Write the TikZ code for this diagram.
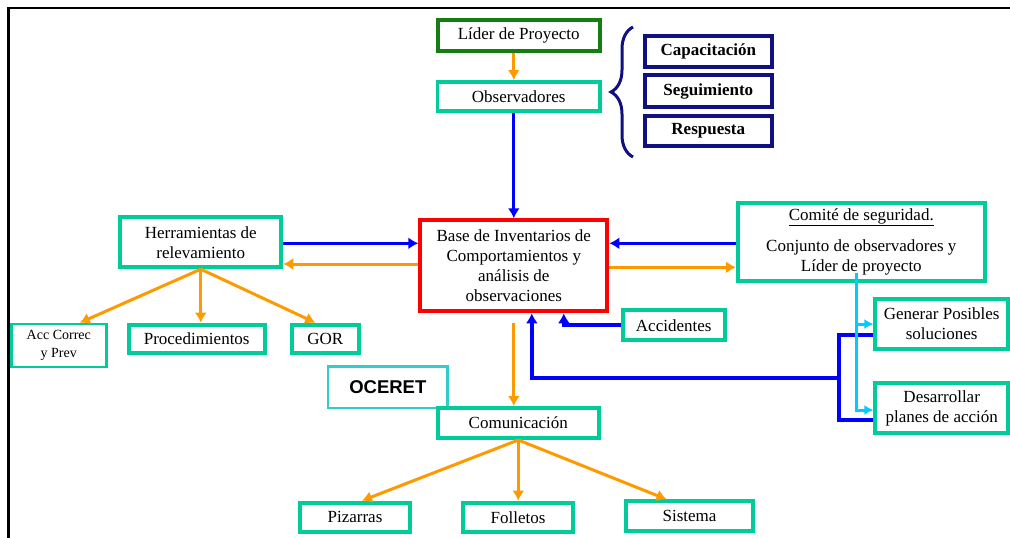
\documentclass[tikz,border=0pt]{standalone}
\usepackage{fontspec}
\setmainfont{Liberation Serif}
\newfontfamily\arialfont{Liberation Sans}
\usetikzlibrary{arrows.meta,decorations.pathreplacing}
\definecolor{cteal}{RGB}{0,204,153}
\definecolor{cgreen}{RGB}{20,125,20}
\definecolor{cred}{RGB}{255,0,0}
\definecolor{cblue}{RGB}{0,0,255}
\definecolor{corange}{RGB}{255,153,0}
\definecolor{cnavy}{RGB}{16,16,128}
\definecolor{ccyan}{RGB}{0,204,255}
\definecolor{cturq}{RGB}{51,204,204}
\newcommand{\fsmain}{\fontsize{17pt}{20pt}\selectfont}
\begin{document}
\begin{tikzpicture}[x=1pt,y=-1pt,
  box/.style={draw, line width=4pt, inner sep=0pt, align=center, font=\fsmain},
  tbox/.style={box, draw=cteal},
  nbox/.style={box, draw=cnavy, font=\fsmain\bfseries, minimum width=127pt},
  arr/.style={line width=3pt, -{Latex[length=10pt,width=12pt]}},
  oarr/.style={arr, draw=corange, fill=corange},
  barr/.style={arr, draw=cblue},
  carr/.style={line width=3pt, draw=ccyan, -{Latex[length=9pt,width=10pt]}},
  bline/.style={line width=4pt, draw=cblue}
]
\useasboundingbox (0,0) rectangle (1010,538);
% frame
\draw[line width=2.5pt, black] (8.5,538) -- (8.5,8) -- (1010,8);

% nodes
\node[box, draw=cgreen, minimum width=162pt, minimum height=31pt] (lider) at (518.7,35.8) {Líder de Proyecto};
\node[tbox, line width=3.5pt, minimum width=162.5pt, minimum height=29pt] (obs) at (518.7,96.3) {Observadores};
\node[box, draw=cred, minimum width=187pt, minimum height=91pt] (base) at (513.8,265.8) {Base de Inventarios de\\Comportamientos y\\análisis de\\observaciones};
\node[tbox, minimum width=161pt, minimum height=50pt] (herr) at (200.8,242.2) {Herramientas de\\relevamiento};
\node[tbox, line width=2.5pt, minimum width=95pt, minimum height=43pt, font=\fontsize{14pt}{18pt}\selectfont] (acc) at (58.8,345.5) {Acc Correc\\y Prev};
\node[tbox, minimum width=136pt, minimum height=28.3pt] (proc) at (196.7,338.8) {Procedimientos};
\node[tbox, minimum width=66.7pt, minimum height=28.3pt] (gor) at (325.3,338.8) {GOR};
\node[tbox, minimum width=246.7pt, minimum height=78.6pt] (comite) at (861.3,242) {\underline{Comité de seguridad.}\\[11pt]Conjunto de observadores y\\Líder de proyecto};
\node[tbox, minimum width=102pt, minimum height=30pt] (accid) at (673.7,325.3) {Accidentes};
\node[tbox, minimum width=132.7pt, minimum height=49.4pt] (gen) at (941.7,324) {Generar Posibles\\soluciones};
\node[tbox, minimum width=132.7pt, minimum height=50pt] (des) at (941.7,408) {Desarrollar\\planes de acción};
\node[box, draw=cturq, line width=2.5pt, minimum width=119.8pt, minimum height=41.5pt, font=\arialfont\bfseries\fontsize{18.5pt}{20pt}\selectfont] (oceret) at (387.8,387) {OCERET};
\node[tbox, fill=white, minimum width=160.7pt, minimum height=30pt] (com) at (518.3,423) {Comunicación};
\node[tbox, minimum width=109.4pt, minimum height=29.3pt] (piz) at (355,517.3) {Pizarras};
\node[tbox, minimum width=110pt, minimum height=29.3pt] (fol) at (518,517.3) {Folletos};
\node[tbox, minimum width=127pt, minimum height=29.4pt] (sis) at (689.5,516) {Sistema};
\node[nbox, minimum height=31.3pt] (cap) at (708.3,51.7) {Capacitación};
\node[nbox, minimum height=32pt] (seg) at (708.3,91.3) {Seguimiento};
\node[nbox, minimum height=30.3pt] (resp) at (708.3,131.2) {Respuesta};

% brace
\draw[cnavy, line width=3pt, decorate, decoration={brace, amplitude=22pt}] (633,157) -- (633,27);

% connectors
\draw[oarr] (lider.south -| base) -- (obs.north -| base);
\draw[barr] (obs.south -| base) -- (base.north);
\draw[barr] (herr.east |- 0,243.3) -- (base.west |- 0,243.3);
\draw[oarr] (base.west |- 0,264) -- (herr.east |- 0,264);
\draw[barr] (comite.west |- 0,243.3) -- (base.east |- 0,243.3);
\draw[oarr] (base.east |- 0,267.3) -- (comite.west |- 0,267.3);
\draw[oarr] (herr.south) -- ([xshift=21pt]acc.north);
\draw[oarr] (herr.south) -- (herr.south |- proc.north);
\draw[oarr] (herr.south) -- ([xshift=-10pt]gor.north);
\draw[oarr] ([yshift=-10pt]base.south) -- (com.north -| base.south);
\draw[oarr] (com.south) -- ([xshift=7pt]piz.north);
\draw[oarr] (com.south) -- (com.south |- fol.north);
\draw[oarr] (com.south) -- ([xshift=-23pt]sis.north);
% blue returns
\draw[bline, -{Latex[length=10pt,width=12pt]}] (accid.west) -| ([xshift=50pt]base.south);
\coordinate (j) at (839.3,378.3);
\draw[bline] ([yshift=-11pt]gen.west) -| (j) |- ([yshift=-12pt]des.west);
\draw[bline, -{Latex[length=10pt,width=12pt]}] (j) -| ([xshift=18pt]base.south);
% cyan
\coordinate (cs) at ([xshift=-4.6pt,yshift=10pt]comite.south);
\draw[carr] (cs) |- ([yshift=-2pt]des.west);
\draw[carr] (cs |- gen.west) -- (gen.west);
\end{tikzpicture}
\end{document}
